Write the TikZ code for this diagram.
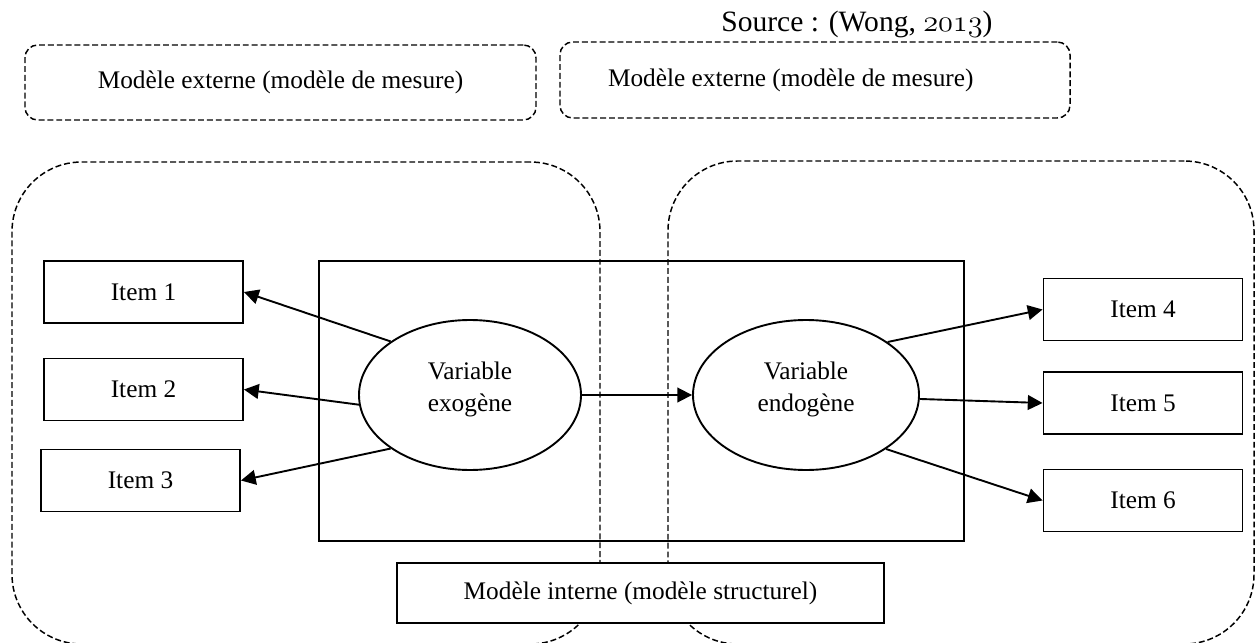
\documentclass[tikz,border=0pt]{standalone}
\usepackage{fontspec}
\setmainfont{Liberation Serif}
\usetikzlibrary{arrows.meta,shapes.geometric}

\tikzset{
    region/.style={draw, line width=0.7pt, dash pattern=on 2.8pt off 1.4pt, rounded corners=33pt},
    extbox/.style={draw, line width=0.7pt, dash pattern=on 2.8pt off 1.4pt, rounded corners=6pt},
    itembox/.style={draw, line width=0.9pt, fill=white, minimum width=199*\pxl, minimum height=62*\pxl},
    latent/.style={draw, ellipse, line width=0.9pt, align=center, text depth=8pt, minimum height=150*\pxl},
    arr/.style={->, line width=0.9pt}
}

\begin{document}
\begin{tikzpicture}[x=0.016667cm, y=-0.016667cm, font=\fontsize{12}{15}\selectfont,
    >={Triangle[length=7pt,width=7pt]}]

    \def\pxl{0.016667cm}	%one pixel of the picture

    \useasboundingbox (0,0) rectangle (1255,643);

    %SOURCE
    \node[anchor=base west, font=\fontsize{14}{16}\selectfont, inner sep=0pt] (src) at (721,32)
        {Source : (Wong, $\mathnormal{2013}$)};

    %OUTER MODELS (measurement)
    \node[extbox, minimum width=511*\pxl, minimum height=75*\pxl] (extL) at (280.5,82.5)
        {Modèle externe (modèle de mesure)};
    \node[extbox, minimum width=510*\pxl, minimum height=76*\pxl, text width=414*\pxl, align=flush left] (extR) at (815,80)
        {Modèle externe (modèle de mesure)};
    \node[region, minimum width=588*\pxl, minimum height=482*\pxl] (outL) at (306,403) {};
    \node[region, minimum width=586*\pxl, minimum height=483*\pxl] (outR) at (961,402.5) {};

    %INNER MODEL (structural)
    \node[draw, line width=1.3pt, minimum width=645*\pxl, minimum height=280*\pxl] (inner) at (641.5,401) {};
    \node[itembox, minimum width=487*\pxl, minimum height=60*\pxl] (struct) at (640.5,593)
        {Modèle interne (modèle structurel)};

    %LATENT VARIABLES
    \node[latent, minimum width=222*\pxl] (exo) at (470,395) {Variable\\exogène};
    \node[latent, minimum width=226*\pxl] (endo) at (806,395) {Variable\\endogène};

    %ITEMS
    \foreach \i/\x/\y in {1/143.5/292, 2/143.5/389.5, 3/140.5/480.5, 4/1143/309.5, 5/1143/403, 6/1143/500.5}{
        \node[itembox] (item\i) at (\x,\y) {Item \i};
    } %end of item loop

    %ARROWS
    \foreach \i/\a in {1/146, 2/185, 3/214}{
        \draw[arr] (exo.\a) -- (item\i.east);
    }
    \foreach \i/\a in {4/33, 5/-2, 6/326}{
        \draw[arr] (endo.\a) -- (item\i.west);
    }
    \draw[arr] (exo) -- (endo);
\end{tikzpicture}
\end{document}
